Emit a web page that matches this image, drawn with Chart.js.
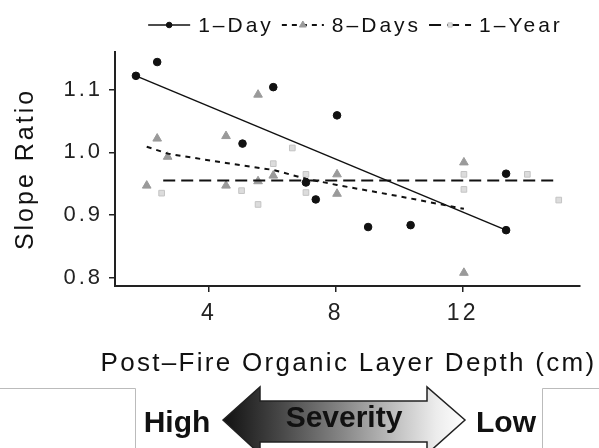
<!DOCTYPE html>
<html>
<head>
<meta charset="utf-8">
<script src="https://cdn.jsdelivr.net/npm/chart.js@4/dist/chart.umd.min.js"></script>
<style>
  body { margin: 0; background: #fff; }
  #wrap { position: relative; width: 599px; height: 448px; overflow: hidden; }
  #chart { position: absolute; left: 0; top: 0; }
  #severity { position: absolute; left: 0; top: 0; }
</style>
</head>
<body>
<div id="wrap">
  <canvas id="chart" width="599" height="385"></canvas>
  <svg id="severity" width="599" height="448">
    <defs>
      <linearGradient id="grad" x1="0" x2="1" y1="0" y2="0">
        <stop offset="0" stop-color="#111"/>
        <stop offset="0.25" stop-color="#4a4a4a"/>
        <stop offset="0.5" stop-color="#888"/>
        <stop offset="0.7" stop-color="#bdbdbd"/>
        <stop offset="0.88" stop-color="#ececec"/>
        <stop offset="1" stop-color="#fff"/>
      </linearGradient>
    </defs>
    <polyline points="0,388.5 135.5,388.5 135.5,448" fill="none" stroke="#bbb"/>
    <polyline points="599,388.5 542.5,388.5 542.5,448" fill="none" stroke="#bbb"/>
    <polygon points="223,420 260,387 260,401 427,401 427,387 465,420 427,454 427,442 260,442 260,454"
             fill="url(#grad)" stroke="#222" stroke-width="1.5"/>
    <g font-family="'Liberation Sans', Arial, sans-serif" font-weight="bold" font-size="30" fill="#111" text-anchor="middle">
      <text x="177" y="432">High</text>
      <text x="344" y="427">Severity</text>
      <text x="506" y="432">Low</text>
    </g>
  </svg>
</div>
<script>
// tick values
const xTicks = [4, 8, 12];
const yTicks = [0.8, 0.9, 1.0, 1.1];

// observed points
const oneDayX = [1.70, 2.37, 5.06, 6.03, 7.06, 7.37, 8.04, 9.02, 10.36, 13.37, 13.37];
const oneDayY = [1.122, 1.144, 1.014, 1.104, 0.952, 0.925, 1.059, 0.881, 0.884, 0.966, 0.876];
const eightDaysX = [2.04, 2.37, 2.70, 4.54, 4.54, 5.55, 5.55, 6.03, 8.04, 8.04, 12.04, 12.04];
const eightDaysY = [0.947, 1.022, 0.993, 1.026, 0.947, 1.092, 0.954, 0.963, 0.965, 0.934, 0.984, 0.808];
const oneYearX = [2.51, 5.03, 5.55, 6.03, 6.63, 7.06, 7.06, 12.04, 12.04, 14.04, 15.03];
const oneYearY = [0.935, 0.939, 0.917, 0.982, 1.007, 0.965, 0.936, 0.965, 0.941, 0.965, 0.924];

// fitted lines
const oneDayFitX = [1.70, 13.37];
const oneDayFitY = [1.122, 0.876];
const eightDaysFitX = [2.04, 2.70, 4.54, 6.03, 7.06, 8.04, 10.0, 12.04];
const eightDaysFitY = [1.009, 0.998, 0.983, 0.972, 0.958, 0.948, 0.930, 0.910];
const oneYearFitX = [2.56, 15.03];
const oneYearFitY = [0.955, 0.955];

const seriesNames = ['1\u2013Day', '8\u2013Days', '1\u2013Year'];
const xTitle = 'Post\u2013Fire Organic Layer Depth (cm)';
const yTitle = 'Slope Ratio';

const FONT = "'Liberation Sans', Arial, sans-serif";

function pts(xs, ys) {
    return xs.map((x, i) => ({ x: x, y: ys[i] }));
}

const seriesStyle = [
    { point: 'circle', radius: 3.8, fill: '#111', stroke: '#111', dash: [], width: 1.5 },
    { point: 'triangle', radius: 5, fill: '#9a9a9a', stroke: '#9a9a9a', dash: [5, 5], width: 2 },
    { point: 'rect', radius: 4, fill: '#dcdcdc', stroke: '#c4c4c4', dash: [12, 6], width: 2 }
];

// text in the reference is widely spaced
const spacing = {
    id: 'spacing',
    beforeDraw(chart) { chart.ctx.letterSpacing = '3px'; }
};

// x title drawn here, Chart.js squeezes it to the axis width
const xTitlePlugin = {
    id: 'xTitlePlugin',
    afterDraw(chart) {
        const ctx = chart.ctx;
        const a = chart.chartArea;
        ctx.save();
        ctx.font = '26px ' + FONT;
        ctx.letterSpacing = '2.3px';
        ctx.fillStyle = '#111';
        ctx.textAlign = 'center';
        ctx.textBaseline = 'middle';
        ctx.fillText(xTitle, (a.left + a.right) / 2 + 1, a.bottom + 78);
        ctx.restore();
    }
};

// legend with line + marker
const lineLegend = {
    id: 'lineLegend',
    afterDraw(chart) {
        const ctx = chart.ctx;
        ctx.save();
        ctx.font = '21px ' + FONT;
        ctx.letterSpacing = '3px';
        ctx.textBaseline = 'middle';
        const symW = 42, gap = 8;
        const widths = seriesNames.map(n => ctx.measureText(n).width);
        const total = widths.reduce((a, w) => a + symW + gap + w + gap, 0) - gap;
        let x = (chart.chartArea.left + chart.chartArea.right) / 2 + 8 - total / 2;
        const y = 25;
        seriesNames.forEach((name, i) => {
            const st = seriesStyle[i];
            ctx.strokeStyle = '#111';
            ctx.lineWidth = st.width;
            ctx.setLineDash(st.dash);
            ctx.beginPath();
            ctx.moveTo(x, y);
            ctx.lineTo(x + symW, y);
            ctx.stroke();
            ctx.setLineDash([]);
            ctx.fillStyle = st.fill;
            ctx.strokeStyle = st.stroke;
            ctx.lineWidth = 1;
            Chart.helpers.drawPoint(ctx, { pointStyle: st.point, radius: st.radius - 1, rotation: 0, borderWidth: 1 }, x + symW / 2, y);
            ctx.fillStyle = '#111';
            ctx.fillText(name, x + symW + gap, y + 1);
            x += symW + gap + widths[i] + gap;
        });
        ctx.restore();
    }
};

function fitSet(xs, ys, st) {
    return {
        type: 'line',
        data: pts(xs, ys),
        showLine: true,
        borderColor: '#111',
        borderWidth: st.width,
        borderDash: st.dash,
        pointRadius: 0,
        fill: false,
        order: 0
    };
}

function pointSet(xs, ys, st) {
    return {
        data: pts(xs, ys),
        showLine: false,
        pointStyle: st.point,
        pointRadius: st.radius,
        pointBackgroundColor: st.fill,
        pointBorderColor: st.stroke,
        pointBorderWidth: 1,
        order: 1
    };
}

new Chart(document.getElementById('chart'), {
    type: 'scatter',
    data: {
        datasets: [
            fitSet(oneDayFitX, oneDayFitY, seriesStyle[0]),
            fitSet(eightDaysFitX, eightDaysFitY, seriesStyle[1]),
            fitSet(oneYearFitX, oneYearFitY, seriesStyle[2]),
            pointSet(oneDayX, oneDayY, seriesStyle[0]),
            pointSet(eightDaysX, eightDaysY, seriesStyle[1]),
            pointSet(oneYearX, oneYearY, seriesStyle[2])
        ]
    },
    options: {
        responsive: false,
        animation: false,
        layout: { padding: { top: 52, right: 19, left: 0, bottom: 0 } },
        plugins: { legend: { display: false }, tooltip: { enabled: false } },
        scales: {
            x: {
                type: 'linear',
                min: 1.04,
                max: 15.7,
                afterBuildTicks: s => { s.ticks = xTicks.map(v => ({ value: v })); },
                afterFit: s => { s.height = 99; },
                grid: { drawOnChartArea: false, drawTicks: true, tickLength: 6, color: '#222', lineWidth: 1.5 },
                border: { color: '#222', width: 2 },
                ticks: { font: { size: 23, family: FONT }, color: '#222', padding: 8, maxRotation: 0 },
                title: { display: false }
            },
            y: {
                min: 0.787,
                max: 1.16,
                afterBuildTicks: s => { s.ticks = yTicks.map(v => ({ value: v })); },
                afterFit: s => { s.width = 115; },
                grid: { drawOnChartArea: false, drawTicks: true, tickLength: 6, color: '#222', lineWidth: 1.5 },
                border: { color: '#222', width: 2 },
                ticks: { font: { size: 22, family: FONT }, color: '#222', padding: 6, callback: v => v.toFixed(1) },
                title: {
                    display: true,
                    text: yTitle,
                    font: { size: 25, family: FONT },
                    color: '#111',
                    padding: { top: 11, bottom: 0 }
                }
            }
        }
    },
    plugins: [spacing, xTitlePlugin, lineLegend]
});
</script>
</body>
</html>
